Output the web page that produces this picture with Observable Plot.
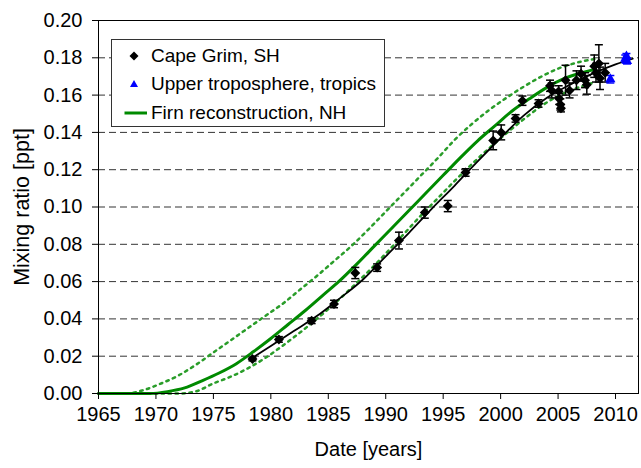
<!DOCTYPE html>
<html>
<head>
<meta charset="utf-8">
<script src="https://cdn.jsdelivr.net/npm/d3@7"></script>
<script src="https://cdn.jsdelivr.net/npm/@observablehq/plot@0.6"></script>
<style>
  body { margin: 0; background: #fff; }
  #wrap { position: relative; width: 641px; height: 468px; font-family: "Liberation Sans", Arial, sans-serif; }
  #legend { position: absolute; left: 111px; top: 39px; width: 272px; height: 86px; border: 1px solid #333; background: #fff; }
  .row { position: absolute; left: 0; height: 24px; display: flex; align-items: center; font-size: 19px; color: #000; white-space: nowrap; }
  .row svg { width: 38px; height: 24px; display: block; }
</style>
</head>
<body>
<div id="wrap"></div>
<script>
// ---- data ----
const xTicks = [1965, 1970, 1975, 1980, 1985, 1990, 1995, 2000, 2005, 2010];
const yTicks = [0, 0.02, 0.04, 0.06, 0.08, 0.10, 0.12, 0.14, 0.16, 0.18, 0.20];
const gridTicks = [0.02, 0.04, 0.06, 0.08, 0.10, 0.12, 0.14, 0.16, 0.18];

// Cape Grim, SH (black diamonds with error bars)
const capeYear  = [1978.4, 1980.7, 1983.55, 1985.5, 1987.35, 1989.25, 1991.15, 1993.4, 1995.4, 1996.95, 1999.35, 2000.05, 2001.3, 2001.9, 2003.3, 2004.3, 2004.45, 2005.05, 2005.1, 2005.2, 2005.25, 2005.65, 2006.0, 2006.6, 2007.0, 2007.35, 2007.5, 2008.15, 2008.3, 2008.55, 2008.65, 2009.1];
const capeValue = [0.0185, 0.029, 0.039, 0.048, 0.0646, 0.0675, 0.082, 0.097, 0.1005, 0.1185, 0.1357, 0.140, 0.1475, 0.157, 0.1555, 0.165, 0.1625, 0.162, 0.158, 0.155, 0.153, 0.168, 0.1625, 0.168, 0.1715, 0.168, 0.1655, 0.1755, 0.172, 0.177, 0.169, 0.172];
const capeErr   = [0.001, 0.0015, 0.0015, 0.002, 0.003, 0.002, 0.0045, 0.003, 0.003, 0.002, 0.005, 0.004, 0.002, 0.0025, 0.002, 0.003, 0.004, 0.003, 0.003, 0.003, 0.002, 0.008, 0.004, 0.005, 0.004, 0.004, 0.005, 0.006, 0.005, 0.01, 0.006, 0.005];

// Upper troposphere, tropics (blue triangles)
const utYear  = [2009.55, 2010.85, 2010.95, 2011.0];
const utValue = [0.1685, 0.1795, 0.1808, 0.1782];
const utErr   = [0.002, 0.002, 0.0015, 0.0015];

// Firn reconstruction, NH (green solid) and its bounds (green dotted)
const firnYear  = [1965, 1969.5, 1971, 1972.5, 1974, 1975.5, 1977, 1978.5, 1980, 1981.5, 1983, 1984.5, 1986, 1987.5, 1989, 1990.5, 1992, 1993.5, 1995, 1996.5, 1998, 1999.5, 2001, 2002.5, 2004, 2005.5, 2007, 2008];
const firnValue = [0, 0, 0.001, 0.003, 0.0068, 0.011, 0.016, 0.0225, 0.0295, 0.037, 0.0445, 0.0525, 0.0605, 0.0695, 0.079, 0.0885, 0.098, 0.1075, 0.117, 0.1265, 0.1355, 0.1435, 0.1515, 0.158, 0.164, 0.1688, 0.1718, 0.1735];

const upperYear  = [1965, 1967.5, 1969, 1970.5, 1972, 1973.5, 1975, 1976.5, 1978, 1979.5, 1981, 1982.5, 1984, 1985.5, 1987, 1988.5, 1990, 1991.5, 1993, 1994.5, 1996, 1997.5, 1999, 2000.5, 2002, 2003.5, 2005, 2006.5, 2008.3];
const upperValue = [0, 0, 0.002, 0.0055, 0.0098, 0.0155, 0.022, 0.0285, 0.035, 0.0415, 0.048, 0.0555, 0.063, 0.071, 0.079, 0.088, 0.0975, 0.107, 0.1165, 0.126, 0.136, 0.1445, 0.152, 0.1585, 0.1645, 0.1698, 0.1742, 0.1772, 0.1795];

const lowerYear  = [1965, 1972, 1973.5, 1975, 1976.5, 1978, 1979.5, 1981, 1982.5, 1984, 1985.5, 1987, 1988.5, 1990, 1991.5, 1993, 1994.5, 1996, 1997.5, 1999, 2000.5, 2002, 2003.5, 2005, 2006.5, 2008];
const lowerValue = [0, 0, 0.0012, 0.0054, 0.009, 0.0135, 0.019, 0.0255, 0.0325, 0.040, 0.048, 0.0565, 0.0655, 0.075, 0.085, 0.095, 0.1045, 0.114, 0.123, 0.1315, 0.1395, 0.147, 0.154, 0.1595, 0.1635, 0.1665];

// Fit through Cape Grim data (black line)
const fitYear  = [1978.3, 1980, 1982, 1984, 1986, 1988, 1990, 1992, 1994, 1996, 1998, 2000, 2002, 2004, 2006, 2008, 2010, 2011.5];
const fitValue = [0.0187, 0.0255, 0.0335, 0.0415, 0.051, 0.061, 0.0735, 0.086, 0.099, 0.1115, 0.1245, 0.137, 0.149, 0.1585, 0.1655, 0.1715, 0.1765, 0.1795];

const xTitle = "Date [years]";
const yTitle = "Mixing ratio [ppt]";

// ---- build tables ----
const zip = (xs, ys) => xs.map((x, i) => ({x, y: ys[i]}));
const cape = capeYear.map((x, i) => ({x, y: capeValue[i], e: capeErr[i]}));
const ut = utYear.map((x, i) => ({x, y: utValue[i], e: utErr[i]}));
const firn = zip(firnYear, firnValue);
const upper = zip(upperYear, upperValue);
const lower = zip(lowerYear, lowerValue);
const fit = zip(fitYear, fitValue);

const cap = {
  draw(context, size) {
    const r = Math.sqrt(size / Math.PI);
    context.moveTo(-r, 0);
    context.lineTo(r, 0);
  }
};

const green = "#008a00";
const greenDot = "#2a9d2a";

const errMarks = (data, color) => [
  Plot.ruleX(data, {x: "x", y1: d => d.y - d.e, y2: d => d.y + d.e, stroke: color, strokeWidth: 1.5}),
  Plot.dot(data, {x: "x", y: d => d.y + d.e, symbol: cap, r: 4, stroke: color, fill: "none", strokeWidth: 1.5}),
  Plot.dot(data, {x: "x", y: d => d.y - d.e, symbol: cap, r: 4, stroke: color, fill: "none", strokeWidth: 1.5})
];

const chart = Plot.plot({
  width: 641,
  height: 468,
  marginLeft: 98,
  marginRight: 3,
  marginTop: 20,
  marginBottom: 75,
  style: {fontFamily: "'Liberation Sans', Arial, sans-serif", fontSize: "20px", color: "#000", background: "#fff", overflow: "visible"},
  x: {domain: [1965, 2012], label: null},
  y: {domain: [0, 0.2], label: null},
  marks: [
    Plot.gridY(gridTicks, {stroke: "#000", strokeOpacity: 0.8, strokeDasharray: "7,4", strokeWidth: 1}),
    Plot.line(upper, {x: "x", y: "y", stroke: greenDot, strokeWidth: 2.5, strokeDasharray: "2.5,4.5", curve: "monotone-x"}),
    Plot.line(lower, {x: "x", y: "y", stroke: greenDot, strokeWidth: 2.5, strokeDasharray: "2.5,4.5", curve: "monotone-x"}),
    Plot.line(firn, {x: "x", y: "y", stroke: green, strokeWidth: 3, curve: "monotone-x"}),
    Plot.line(fit, {x: "x", y: "y", stroke: "#000", strokeWidth: 1.8, curve: "monotone-x"}),
    ...errMarks(cape, "#000"),
    ...errMarks(ut, "#0000ff"),
    Plot.dot(cape, {x: "x", y: "y", symbol: "diamond2", r: 4.5, fill: "#000", stroke: "none"}),
    Plot.dot(ut, {x: "x", y: "y", symbol: "triangle", r: 3.8, fill: "#0000ff", stroke: "none"}),
    Plot.frame({stroke: "#000", strokeWidth: 1}),
    Plot.axisX({ticks: xTicks, tickFormat: d => String(d), tickSize: 6, tickPadding: 7, fontSize: 20,
      label: xTitle, labelAnchor: "center", labelOffset: 62, labelArrow: "none"}),
    Plot.axisY({ticks: yTicks, tickFormat: d3.format(".2f"), tickSize: 6, tickPadding: 10, fontSize: 20, label: null}),
    Plot.text([yTitle], {text: d => d, frameAnchor: "left", rotate: -90, dx: -76, fontSize: 21.5, lineAnchor: "middle", textAnchor: "middle"})
  ]
});

const wrap = document.getElementById("wrap");
wrap.appendChild(chart);

// ---- legend (overlay box inside the plot area) ----
const legendItems = [
  {label: "Cape Grim, SH", kind: "diamond"},
  {label: "Upper troposphere, tropics", kind: "triangle"},
  {label: "Firn reconstruction, NH", kind: "line"}
];
const legend = document.createElement("div");
legend.id = "legend";
const rowCenters = [16, 44, 73];
legendItems.forEach((item, i) => {
  const row = document.createElement("div");
  row.className = "row";
  row.style.top = (rowCenters[i] - 12) + "px";
  let sw = "";
  if (item.kind === "diamond") sw = '<polygon points="22,7.5 26.5,12 22,16.5 17.5,12" fill="#000"/>';
  if (item.kind === "triangle") sw = '<polygon points="22,8 26,15 18,15" fill="#0000ff"/>';
  if (item.kind === "line") sw = '<line x1="12.5" y1="12" x2="35" y2="12" stroke="' + green + '" stroke-width="3"/>';
  row.innerHTML = '<svg viewBox="0 0 38 24">' + sw + '</svg><span style="margin-left:1px">' + item.label + '</span>';
  legend.appendChild(row);
});
wrap.appendChild(legend);
</script>
</body>
</html>
